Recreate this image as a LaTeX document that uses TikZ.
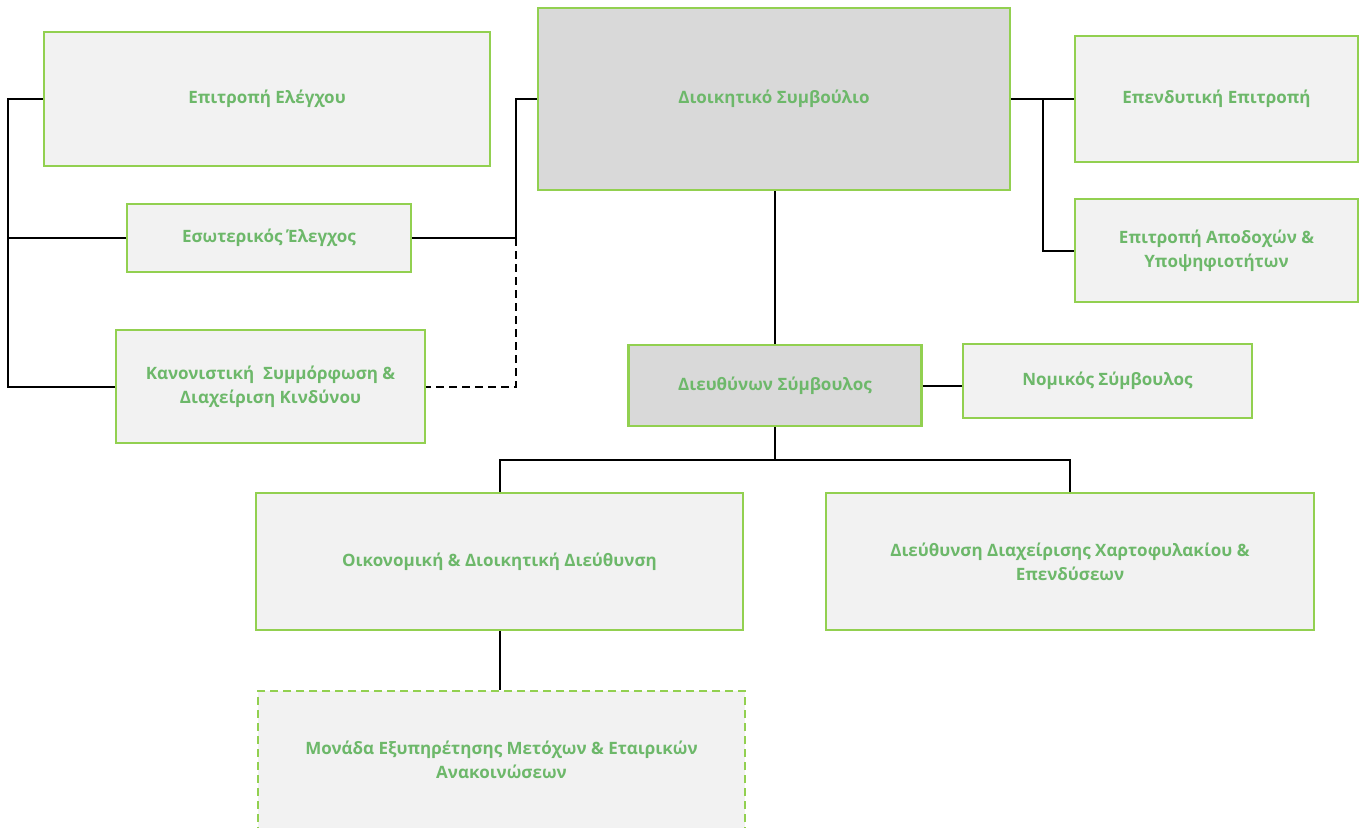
\documentclass[tikz,border=0pt]{standalone}
\usepackage{fontspec}
\setmainfont{Open Sans}
\definecolor{boxline}{HTML}{92D050}
\definecolor{boxtext}{HTML}{6DB86A}
\definecolor{lightfill}{HTML}{F2F2F2}
\definecolor{darkfill}{HTML}{D9D9D9}
\begin{document}
\begin{tikzpicture}[
    x = 1pt,
    y = -1pt,
    %thick,
    box/.style = {draw = boxline, line width = 2.5pt, fill = lightfill, inner sep = 0pt,
                  align = center, text = boxtext, font = \fontsize{17}{24}\selectfont\bfseries},
    headbox/.style = {box, fill = darkfill},
    planbox/.style = {box, dash pattern = on 8pt off 5pt},
    link/.style = {line width = 2pt, black},
    dottedlink/.style = {link, dash pattern = on 8pt off 5pt}
  ]
  \useasboundingbox (0,0) rectangle (1364,827);
  \clip (0,0) rectangle (1364,827);

  % Board and committees
  \node[headbox, minimum width = 472pt, minimum height = 182pt] (board) at (774,99) {Διοικητικό Συμβούλιο};
  \node[box, minimum width = 446pt, minimum height = 134pt] (audit) at (267,99) {Επιτροπή Ελέγχου};
  \node[box, minimum width = 284pt, minimum height = 68pt] (intaudit) at (269,238) {Εσωτερικός Έλεγχος};
  \node[box, minimum width = 309pt, minimum height = 113pt] (compliance) at (270.5,386.5)
    {Κανονιστική\ \ Συμμόρφωση \&\\Διαχείριση\ Κινδύνου};
  \node[box, minimum width = 283pt, minimum height = 126pt] (invest) at (1216.5,99) {Επενδυτική Επιτροπή};
  \node[box, minimum width = 283pt, minimum height = 103pt] (remun) at (1216.5,250.5)
    {Επιτροπή Αποδοχών \&\\Υποψηφιοτήτων};

  % Management
  \node[headbox, minimum width = 293pt, minimum height = 81pt] (ceo) at (775,385.5) {Διευθύνων Σύμβουλος};
  \node[box, minimum width = 289pt, minimum height = 74pt] (legal) at (1107.5,381) {Νομικός Σύμβουλος};
  \node[box, minimum width = 487pt, minimum height = 137pt] (finance) at (499.5,561.5)
    {Οικονομική \& Διοικητική Διεύθυνση};
  \node[box, minimum width = 488pt, minimum height = 137pt] (portfolio) at (1070,561.5)
    {Διεύθυνση Διαχείρισης Χαρτοφυλακίου \&\\Επενδύσεων};
  \node[planbox, minimum width = 487pt, minimum height = 138pt] (shareholder) at (501.5,760)
    {Μονάδα Εξυπηρέτησης Μετόχων \& Εταιρικών\\Ανακοινώσεων};

  % Connectors
  \coordinate (lbus) at (8,99);
  \coordinate (bleft) at (516,99);
  \coordinate (bright) at (1043,99);
  \coordinate (mbus) at (775,460);

  \draw[link] (audit.west) -- (lbus) |- (compliance.west);
  \draw[link] (intaudit.west) -- (lbus |- intaudit.west);
  \draw[link] (board.west) -- (bleft) |- (intaudit.east);
  \draw[dottedlink] (bleft |- intaudit.east) |- (compliance.east);
  \draw[link] (board.east) -- (invest.west);
  \draw[link] (bright) |- (remun.west);
  \draw[link] (ceo.north) -- (ceo.north |- board.south);
  \draw[link] (ceo.east) -- (legal.west |- ceo.east);
  \draw[link] (ceo.south) -- (mbus);
  \draw[link] (finance.north) |- (mbus) -| (portfolio.north);
  \draw[link] (finance.south) -- (finance.south |- shareholder.north);
\end{tikzpicture}
\end{document}
